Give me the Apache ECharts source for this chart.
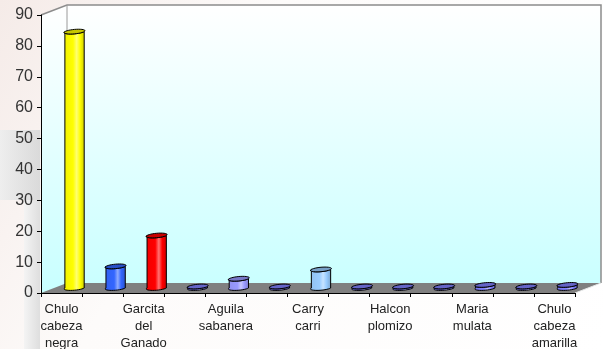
<!DOCTYPE html>
<html>
<head>
<meta charset="utf-8">
<script src="https://cdn.jsdelivr.net/npm/echarts@6/dist/echarts.min.js"></script>
<style>
  html, body { margin: 0; padding: 0; background: #fff; }
  #chart { width: 603px; height: 349px; }
</style>
</head>
<body>
<div id="chart"></div>
<script>
// categories (every other slot has no label in the original)
const categories = [
  "Chulo cabeza negra", "", "Garcita del Ganado", "", "Aguila sabanera", "",
  "Carry carri", "", "Halcon plomizo", "", "Maria mulata", "", "Chulo cabeza amarilla"
];
const values = [83, 7, 17, 0, 3, 0, 6, 0, 0, 0, 1, 0, 1];
const barColors = [
  "#ffff00", "#3366ff", "#ff0000", "#8080ff", "#9999ff", "#8080ff",
  "#99ccff", "#8080ff", "#8080ff", "#8080ff", "#8080ff", "#8080ff", "#8080ff"
];
const yTicks = [0, 10, 20, 30, 40, 50, 60, 70, 80, 90];

const DX = 26, DY = -10; // depth of the 3d box

function mix(hex, target, k) {
  const n = parseInt(hex.slice(1), 16);
  const r = (n >> 16) & 255, g = (n >> 8) & 255, b = n & 255;
  const t = target === "w" ? 255 : 0;
  const f = (c) => Math.round(c + (t - c) * k);
  return "rgb(" + f(r) + "," + f(g) + "," + f(b) + ")";
}

function ell(cx, cy, R, a, b, t0, t1, n) {
  const pts = [];
  for (let k = 0; k <= n; k++) {
    const t = t0 + (t1 - t0) * k / n;
    pts.push([cx + R * Math.cos(t) + a * Math.sin(t), cy - b * Math.sin(t)]);
  }
  return pts;
}

function renderFrame(params, api) {
  const cs = params.coordSys;
  const L = cs.x, T = cs.y, R = cs.x + cs.width, B = cs.y + cs.height;
  return {
    type: "group",
    children: [
      {
        type: "polygon",
        shape: { points: [[L, T], [L + DX, T + DY], [R + DX, T + DY], [R + DX, B + DY], [R, B], [L, B]] },
        style: {
          fill: new echarts.graphic.LinearGradient(0, 0, 0, 1, [
            { offset: 0, color: "#ffffff" },
            { offset: 1, color: "#c8ffff" }
          ])
        }
      },
      {
        type: "polygon",
        shape: { points: [[L, B], [L + DX, B + DY], [R + DX, B + DY], [R, B]] },
        style: { fill: "#808080" }
      },
      {
        type: "polyline",
        shape: { points: [[L, T], [L + DX, T + DY], [R + DX, T + DY], [R + DX, B + DY]] },
        style: { stroke: "#8c8c8c", lineWidth: 1.5, fill: null }
      },
      {
        type: "line",
        shape: { x1: L + DX, y1: T + DY, x2: L + DX, y2: B + DY },
        style: { stroke: "#9a9a9a", lineWidth: 1 }
      },
      {
        type: "line",
        shape: { x1: R, y1: B, x2: R + DX, y2: B + DY },
        style: { stroke: "#e8e8e8", lineWidth: 1 }
      }
    ]
  };
}

function renderBar(params, api) {
  const i = api.value(0);
  const v = api.value(1);
  const base = api.coord([i, 0]);
  const top = api.coord([i, v]);
  const slot = api.size([1, 0])[0];
  const R = slot * 0.235;
  const a = 4, b = 2.4;
  const cx = base[0] + DX / 2;
  const by = base[1] + DY / 2;
  let ty = top[1] + DY / 2;
  if (by - ty < 1.5) ty = by - 1.5;
  const c = barColors[i];
  const body = ell(cx, by, R, a, b, Math.PI, 2 * Math.PI, 16)
    .concat(ell(cx, ty, R, a, b, 2 * Math.PI, Math.PI, 16));
  return {
    type: "group",
    children: [
      {
        type: "polygon",
        shape: { points: body },
        style: {
          fill: new echarts.graphic.LinearGradient(0, 0, 1, 0, [
            { offset: 0, color: mix(c, "k", 0.06) },
            { offset: 0.45, color: c },
            { offset: 0.62, color: mix(c, "w", 0.45) },
            { offset: 0.78, color: c },
            { offset: 1, color: mix(c, "k", 0.2) }
          ]),
          stroke: "#000",
          lineWidth: 1
        }
      },
      {
        type: "polygon",
        shape: { points: ell(cx, ty, R, a, b, 0, 2 * Math.PI, 32) },
        style: { fill: mix(c, "k", 0.22), stroke: "#000", lineWidth: 1 }
      }
    ]
  };
}

const chart = echarts.init(document.getElementById("chart"));

chart.setOption({
  animation: false,
  backgroundColor: "#ffffff",
  graphic: [
    {
      type: "rect", z: -10, silent: true,
      shape: { x: 0, y: 0, width: 603, height: 349 },
      style: {
        fill: new echarts.graphic.LinearGradient(0, 0, 1, 1, [
          { offset: 0, color: "#f5ebe8" },
          { offset: 0.35, color: "#fdfbfa" },
          { offset: 1, color: "#ffffff" }
        ])
      }
    },
    {
      type: "rect", z: -9, silent: true,
      shape: { x: 0, y: 130, width: 40, height: 70 },
      style: {
        fill: new echarts.graphic.LinearGradient(0, 0, 1, 0, [
          { offset: 0, color: "#eeeeee" },
          { offset: 1, color: "#dadada" }
        ])
      }
    },
    {
      type: "rect", z: -9, silent: true,
      shape: { x: 24, y: 200, width: 16, height: 149 },
      style: {
        fill: new echarts.graphic.LinearGradient(0, 0, 1, 0, [
          { offset: 0, color: "#f4f4f4" },
          { offset: 1, color: "#dedede" }
        ])
      }
    }
  ],
  grid: { left: 41, right: 28, top: 15, bottom: 56, outerBoundsMode: "none" },
  xAxis: {
    type: "category",
    data: categories,
    z: 5,
    axisLine: { lineStyle: { color: "#000", width: 1 } },
    axisTick: { show: true, length: 4, interval: 0, lineStyle: { color: "#000" } },
    axisLabel: {
      interval: 0,
      margin: 8,
      fontSize: 13,
      lineHeight: 17,
      color: "#222",
      fontFamily: "Liberation Sans",
      formatter: (s) => s.split(" ").join("\n")
    },
    splitLine: { show: false }
  },
  yAxis: {
    type: "value",
    min: yTicks[0],
    max: yTicks[yTicks.length - 1],
    interval: 10,
    z: 5,
    axisLine: { show: true, lineStyle: { color: "#000", width: 1 } },
    axisTick: { show: true, length: 4, lineStyle: { color: "#000" } },
    axisLabel: { margin: 8, fontSize: 16, color: "#333", fontFamily: "Liberation Sans" },
    splitLine: { show: false }
  },
  series: [
    {
      type: "custom",
      z: 1,
      silent: true,
      clip: false,
      renderItem: renderFrame,
      data: [[0, 0]]
    },
    {
      type: "custom",
      z: 3,
      clip: false,
      renderItem: renderBar,
      encode: { x: 0, y: 1 },
      data: values.map((v, i) => [i, v])
    }
  ]
});
</script>
</body>
</html>
